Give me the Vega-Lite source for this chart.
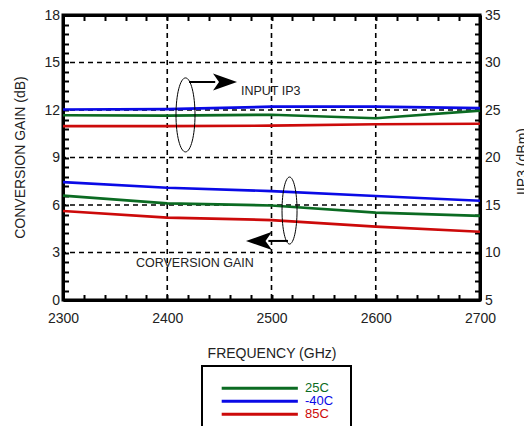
{
  "$schema": "https://vega.github.io/schema/vega-lite/v6.json",
  "width": 417,
  "height": 285,
  "autosize": "none",
  "padding": {"left": 63, "top": 15, "right": 44, "bottom": 126},
  "background": "white",
  "config": {
    "font": "Liberation Sans",
    "view": {"stroke": "black", "strokeWidth": 3},
    "axis": {
      "labelFont": "Liberation Sans", "titleFont": "Liberation Sans",
      "labelFontSize": 14, "titleFontSize": 14, "titleFontWeight": "normal",
      "labelColor": "#222", "titleColor": "#222",
      "domainColor": "black", "domainWidth": 3,
      "tickColor": "black", "tickWidth": 2, "tickSize": -5.5,
      "grid": false, "labelOverlap": false, "labelFlush": false
    }
  },
  "datasets": {
    "series": [
      {"freq": 2300, "temp": "25C", "gain": 6.59, "ip3": 24.45},
      {"freq": 2400, "temp": "25C", "gain": 6.10, "ip3": 24.40},
      {"freq": 2500, "temp": "25C", "gain": 5.97, "ip3": 24.50},
      {"freq": 2600, "temp": "25C", "gain": 5.52, "ip3": 24.13},
      {"freq": 2700, "temp": "25C", "gain": 5.31, "ip3": 24.93},
      {"freq": 2300, "temp": "-40C", "gain": 7.45, "ip3": 25.05},
      {"freq": 2400, "temp": "-40C", "gain": 7.09, "ip3": 25.10},
      {"freq": 2500, "temp": "-40C", "gain": 6.88, "ip3": 25.35},
      {"freq": 2600, "temp": "-40C", "gain": 6.57, "ip3": 25.35},
      {"freq": 2700, "temp": "-40C", "gain": 6.27, "ip3": 25.20},
      {"freq": 2300, "temp": "85C", "gain": 5.62, "ip3": 23.30},
      {"freq": 2400, "temp": "85C", "gain": 5.20, "ip3": 23.30},
      {"freq": 2500, "temp": "85C", "gain": 5.05, "ip3": 23.35},
      {"freq": 2600, "temp": "85C", "gain": 4.63, "ip3": 23.50},
      {"freq": 2700, "temp": "85C", "gain": 4.31, "ip3": 23.55}
    ],
    "vgrid": [{"f": 2400}, {"f": 2500}, {"f": 2600}],
    "hgrid": [{"g": 3}, {"g": 6}, {"g": 9}, {"g": 12}, {"g": 15}]
  },
  "layer": [
    {
      "data": {"name": "vgrid"},
      "mark": {"type": "rule", "color": "black", "strokeWidth": 1.6, "strokeDash": [5, 4]},
      "encoding": {
        "x": {"field": "f", "type": "quantitative",
          "scale": {"domain": [2300, 2700], "nice": false, "zero": false},
          "axis": {"orient": "top", "labels": false, "title": null,
            "values": [2300,2320,2340,2360,2380,2400,2420,2440,2460,2480,2500,2520,2540,2560,2580,2600,2620,2640,2660,2680,2700]}}
      }
    },
    {
      "data": {"name": "hgrid"},
      "mark": {"type": "rule", "color": "black", "strokeWidth": 1.6, "strokeDash": [5, 4]},
      "encoding": {
        "y": {"field": "g", "type": "quantitative",
          "scale": {"domain": [0, 18], "nice": false, "zero": false}, "axis": null}
      }
    },
    {
      "data": {"name": "series"},
      "mark": {"type": "line", "strokeWidth": 2.7},
      "encoding": {
        "x": {"field": "freq", "type": "quantitative",
          "scale": {"domain": [2300, 2700], "nice": false, "zero": false},
          "axis": {"orient": "bottom", "title": "FREQUENCY (GHz)", "labelPadding": 17,
            "titleBaseline": "top", "titleY": 46,
            "values": [2300,2320,2340,2360,2380,2400,2420,2440,2460,2480,2500,2520,2540,2560,2580,2600,2620,2640,2660,2680,2700],
            "labelExpr": "datum.value % 100 == 0 ? format(datum.value, 'd') : ''"}},
        "y": {"field": "gain", "type": "quantitative",
          "scale": {"domain": [0, 18], "nice": false, "zero": false},
          "axis": {"orient": "left", "title": "CONVERSION GAIN (dB)", "labelPadding": 9,
            "titleAngle": 270, "titleBaseline": "top", "titleAlign": "center", "titleX": -50, "titleY": 142,
            "values": [0,0.6,1.2,1.8,2.4,3,3.6,4.2,4.8,5.4,6,6.6,7.2,7.8,8.4,9,9.6,10.2,10.8,11.4,12,12.6,13.2,13.8,14.4,15,15.6,16.2,16.8,17.4,18],
            "labelExpr": "abs(datum.value/3 - round(datum.value/3)) < 0.01 ? format(datum.value, 'd') : ''"}},
        "color": {"field": "temp", "type": "nominal",
          "scale": {"domain": ["25C", "-40C", "85C"], "range": ["#0b6b22", "#0a0ae6", "#cc0a0a"]},
          "legend": {"orient": "none", "legendX": 139, "legendY": 351, "title": null,
            "symbolType": "M-1,0H19", "symbolSize": 58, "symbolStrokeWidth": 3,
            "labelFont": "Liberation Sans", "labelFontSize": 13, "labelOffset": 73,
            "clipHeight": 10.5, "rowPadding": -6.5, "padding": 17, "strokeColor": "black",
            "encode": {
              "legend": {"update": {"strokeWidth": {"value": 2}}},
              "labels": {"update": {"fill": {"scale": "color", "field": "value"}}}
            }}}
      }
    },
    {
      "data": {"name": "series"},
      "mark": {"type": "line", "strokeWidth": 2.7},
      "encoding": {
        "x": {"field": "freq", "type": "quantitative",
          "scale": {"domain": [2300, 2700], "nice": false, "zero": false}, "axis": null},
        "y": {"field": "ip3", "type": "quantitative",
          "scale": {"domain": [5, 35], "nice": false, "zero": false},
          "axis": {"orient": "right", "title": "IIP3 (dBm)", "labelPadding": 10,
            "titleAngle": 270, "titleBaseline": "top", "titleAlign": "center", "titleX": 35, "titleY": 146,
            "values": [5,6,7,8,9,10,11,12,13,14,15,16,17,18,19,20,21,22,23,24,25,26,27,28,29,30,31,32,33,34,35],
            "labelExpr": "datum.value % 5 == 0 ? format(datum.value, 'd') : ''"}},
        "color": {"field": "temp", "type": "nominal", "legend": null}
      }
    },
    {
      "data": {"values": [{"freq": 2417.5, "gain": 11.69}]},
      "mark": {"type": "point", "shape": "M0,-1C0.142,-1 0.257,-0.552 0.257,0C0.257,0.552 0.142,1 0,1C-0.142,1 -0.257,0.552 -0.257,0C-0.257,-0.552 -0.142,-1 0,-1Z",
        "size": 5476, "filled": false, "stroke": "black", "strokeWidth": 1, "opacity": 1},
      "encoding": {
        "x": {"field": "freq", "type": "quantitative", "scale": {"domain": [2300, 2700], "nice": false, "zero": false}, "axis": null},
        "y": {"field": "gain", "type": "quantitative", "scale": {"domain": [0, 18], "nice": false, "zero": false}, "axis": null}
      }
    },
    {
      "data": {"values": [{"freq": 2517.3, "gain": 5.65}]},
      "mark": {"type": "point", "shape": "M0,-1C0.124,-1 0.224,-0.552 0.224,0C0.224,0.552 0.124,1 0,1C-0.124,1 -0.224,0.552 -0.224,0C-0.224,-0.552 -0.124,-1 0,-1Z",
        "size": 4489, "filled": false, "stroke": "black", "strokeWidth": 1, "opacity": 1},
      "encoding": {
        "x": {"field": "freq", "type": "quantitative", "scale": {"domain": [2300, 2700], "nice": false, "zero": false}, "axis": null},
        "y": {"field": "gain", "type": "quantitative", "scale": {"domain": [0, 18], "nice": false, "zero": false}, "axis": null}
      }
    },
    {
      "data": {"values": [{"x1": 2420.9, "x2": 2446, "gain": 13.77}, {"x1": 2497, "x2": 2515.8, "gain": 3.73}]},
      "mark": {"type": "rule", "color": "black", "strokeWidth": 2},
      "encoding": {
        "x": {"field": "x1", "type": "quantitative", "scale": {"domain": [2300, 2700], "nice": false, "zero": false}, "axis": null},
        "x2": {"field": "x2"},
        "y": {"field": "gain", "type": "quantitative", "scale": {"domain": [0, 18], "nice": false, "zero": false}, "axis": null}
      }
    },
    {
      "data": {"values": [{"freq": 2455.4, "gain": 13.77}]},
      "mark": {"type": "point", "shape": "M1,0L-1,-0.7L-0.5,0L-1,0.7Z", "size": 576, "filled": true, "color": "black", "opacity": 1},
      "encoding": {
        "x": {"field": "freq", "type": "quantitative", "scale": {"domain": [2300, 2700], "nice": false, "zero": false}, "axis": null},
        "y": {"field": "gain", "type": "quantitative", "scale": {"domain": [0, 18], "nice": false, "zero": false}, "axis": null}
      }
    },
    {
      "data": {"values": [{"freq": 2488, "gain": 3.73}]},
      "mark": {"type": "point", "shape": "M-1,0L1,-0.7L0.5,0L1,0.7Z", "size": 676, "filled": true, "color": "black", "opacity": 1},
      "encoding": {
        "x": {"field": "freq", "type": "quantitative", "scale": {"domain": [2300, 2700], "nice": false, "zero": false}, "axis": null},
        "y": {"field": "gain", "type": "quantitative", "scale": {"domain": [0, 18], "nice": false, "zero": false}, "axis": null}
      }
    },
    {
      "data": {"values": [{"freq": 2470.7, "gain": 13.2, "label": "INPUT IP3"}, {"freq": 2370, "gain": 2.34, "label": "CORVERSION GAIN"}]},
      "mark": {"type": "text", "align": "left", "baseline": "middle", "font": "Liberation Sans", "fontSize": 12.5, "color": "#222"},
      "encoding": {
        "x": {"field": "freq", "type": "quantitative", "scale": {"domain": [2300, 2700], "nice": false, "zero": false}, "axis": null},
        "y": {"field": "gain", "type": "quantitative", "scale": {"domain": [0, 18], "nice": false, "zero": false}, "axis": null},
        "text": {"field": "label"}
      }
    }
  ],
  "resolve": {"scale": {"y": "independent"}, "axis": {"x": "independent", "y": "independent"}}
}
